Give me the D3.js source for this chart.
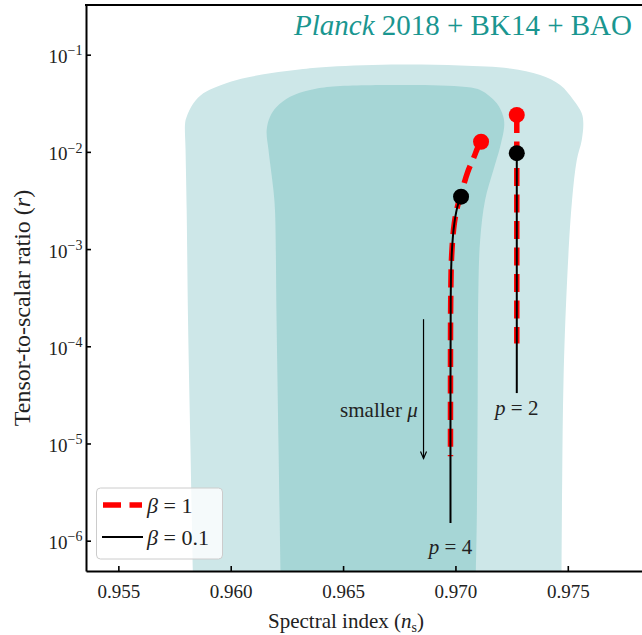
<!DOCTYPE html>
<html>
<head>
<meta charset="utf-8">
<script src="https://cdn.jsdelivr.net/npm/d3@7"></script>
<style>
body { margin: 0; background: #fff; }
svg text { font-family: "Liberation Serif", "Times New Roman", "DejaVu Serif", serif; fill: #222; }
</style>
</head>
<body>
<svg width="642" height="635"></svg>
<script>
// tick values
const xTicks = [0.955, 0.960, 0.965, 0.970, 0.975]
const yTicks = [1e-6, 1e-5, 1e-4, 1e-3, 1e-2, 1e-1]

// 95% contour (outer, light)
const outerNs = [0.95832, 0.95821, 0.95810, 0.95804, 0.95799, 0.95797, 0.95804, 0.95834, 0.95878, 0.95938,
  0.96027, 0.96175, 0.96322, 0.96442, 0.96754, 0.97021, 0.97243, 0.97377, 0.97466, 0.97525,
  0.97562, 0.97569, 0.97562, 0.97540, 0.97519, 0.97497, 0.97481, 0.97475, 0.97472]
const outerR = [4.0e-7, 8.6e-6, 1.87e-4, 2.52e-3, 1.05e-2, 1.97e-2, 2.30e-2, 3.16e-2, 4.01e-2, 4.69e-2,
  5.50e-2, 6.44e-2, 7.13e-2, 7.53e-2, 7.93e-2, 7.74e-2, 7.21e-2, 6.18e-2, 4.88e-2, 3.42e-2,
  2.49e-2, 1.97e-2, 1.32e-2, 8.26e-3, 3.20e-3, 4.81e-4, 4.50e-5, 4.21e-6, 4.0e-7]

// 68% contour (inner, darker)
const innerNs = [0.96222, 0.96213, 0.96204, 0.96197, 0.96190, 0.96168, 0.96160, 0.96175, 0.96205, 0.96264,
  0.96353, 0.96442, 0.96754, 0.97021, 0.97110, 0.97184, 0.97213, 0.97217, 0.97199, 0.97169,
  0.97132, 0.97110, 0.97102, 0.97099, 0.97095, 0.97090]
const innerR = [4.0e-7, 8.6e-6, 1.87e-4, 2.52e-3, 4.06e-3, 1.05e-2, 1.68e-2, 2.30e-2, 2.92e-2, 3.70e-2,
  4.34e-2, 4.69e-2, 4.88e-2, 4.71e-2, 4.34e-2, 3.16e-2, 2.30e-2, 1.82e-2, 1.13e-2, 6.52e-3,
  3.20e-3, 1.24e-3, 3.79e-4, 2.81e-5, 1.63e-6, 4.0e-7]

// model predictions, first point = large mu end
const beta1P4Ns = [0.97114, 0.97098, 0.97083, 0.97055, 0.97035, 0.97025, 0.97013, 0.96995, 0.96983, 0.96979, 0.96978, 0.96978]
const beta1P4R = [1.27e-2, 1.09e-2, 8.9e-3, 6.25e-3, 4.4e-3, 3.46e-3, 2.96e-3, 1.84e-3, 8.4e-4, 3.0e-4, 3.0e-5, 7.4e-6]
const beta01P4Ns = [0.97025, 0.97013, 0.96995, 0.96983, 0.96979, 0.96978, 0.96978]
const beta01P4R = [3.46e-3, 2.96e-3, 1.84e-3, 8.4e-4, 3.0e-4, 3.0e-5, 1.52e-6]
const beta1P2Ns = [0.97273, 0.97273]
const beta1P2R = [2.4e-2, 1.07e-4]
const beta01P2Ns = [0.97273, 0.97273]
const beta01P2R = [9.7e-3, 3.3e-5]

// 画布
const svg = d3.select('svg')
const mLeft = 86, mRight = 646, mTop = 5, mBottom = 571

const x = d3.scaleLinear().domain([0.95356, 0.97848]).range([mLeft, mRight])
const y = d3.scaleLog().domain([Math.pow(10, -6.312), Math.pow(10, -0.489)]).range([mBottom, mTop])

svg.append('defs').append('clipPath').attr('id', 'clip')
  .append('rect').attr('x', mLeft).attr('y', mTop).attr('width', mRight - mLeft).attr('height', mBottom - mTop)

const plot = svg.append('g').attr('clip-path', 'url(#clip)')

const zip = (a, b) => a.map((v, i) => [v, b[i]])
const smooth = d3.line().x(d => x(d[0])).y(d => y(d[1])).curve(d3.curveCatmullRom)

// 等高线区域
plot.append('path').attr('d', smooth(zip(outerNs, outerR)) + 'Z').attr('fill', '#cde7e8')
plot.append('path').attr('d', smooth(zip(innerNs, innerR)) + 'Z').attr('fill', '#a6d6d6')

// 曲线 (beta = 1 红色虚线, beta = 0.1 黑色实线)
const red = [zip(beta1P4Ns, beta1P4R), zip(beta1P2Ns, beta1P2R)]
const black = [zip(beta01P4Ns, beta01P4R), zip(beta01P2Ns, beta01P2R)]

red.forEach(c => {
  plot.append('path').attr('d', smooth(c)).attr('fill', 'none')
    .attr('stroke', '#ff0000').attr('stroke-width', 5.5).attr('stroke-dasharray', '18,8.5')
  plot.append('circle').attr('cx', x(c[0][0])).attr('cy', y(c[0][1])).attr('r', 8).attr('fill', '#ff0000')
})
black.forEach(c => {
  plot.append('path').attr('d', smooth(c)).attr('fill', 'none')
    .attr('stroke', '#000').attr('stroke-width', 2)
  plot.append('circle').attr('cx', x(c[0][0])).attr('cy', y(c[0][1])).attr('r', 8).attr('fill', '#000')
})

// 箭头和注释
const arrowNs = 0.96858, arrowR = [1.9e-4, 7.0e-6]
const ax = x(arrowNs), ay0 = y(arrowR[0]), ay1 = y(arrowR[1])
plot.append('line').attr('x1', ax).attr('x2', ax).attr('y1', ay0).attr('y2', ay1)
  .attr('stroke', '#000').attr('stroke-width', 1.2)
plot.append('path').attr('d', `M${ax - 3},${ay1 - 7}L${ax},${ay1}L${ax + 3},${ay1 - 7}`)
  .attr('fill', 'none').attr('stroke', '#000').attr('stroke-width', 1.2)

const muText = svg.append('text').attr('x', x(0.96832)).attr('y', y(1.87e-5))
  .attr('text-anchor', 'end').attr('font-size', 21)
muText.append('tspan').text('smaller ')
muText.append('tspan').attr('font-style', 'italic').text('μ')

const pLabels = [[0.97273, 1.96e-5, '2'], [0.96978, 7.36e-7, '4']]
pLabels.forEach(d => {
  const t = svg.append('text').attr('x', x(d[0])).attr('y', y(d[1]))
    .attr('text-anchor', 'middle').attr('font-size', 21)
  t.append('tspan').attr('font-style', 'italic').text('p')
  t.append('tspan').text(' = ' + d[2])
})

// 坐标轴
const gx = svg.append('g').attr('transform', `translate(0,${mBottom})`)
  .call(d3.axisBottom(x).tickValues(xTicks).tickFormat(d3.format('.3f'))
    .tickSizeInner(-5).tickSizeOuter(0).tickPadding(14))
gx.attr('font-size', 19).attr('font-family', null)
gx.select('.domain').attr('stroke-width', 2)
gx.selectAll('.tick line').attr('stroke-width', 1.6)

const gy = svg.append('g').attr('transform', `translate(${mLeft},0)`)
  .call(d3.axisLeft(y).tickValues(yTicks).tickSizeInner(-5).tickSizeOuter(0).tickPadding(3.5))
gy.attr('font-size', 19).attr('font-family', null)
gy.select('.domain').attr('stroke-width', 2)
gy.selectAll('.tick line').attr('stroke-width', 1.6)
gy.selectAll('.tick text').each(function (d) {
  const t = d3.select(this).text(null).attr('dy', '0.42em')
  t.append('tspan').text('10')
  t.append('tspan').attr('dy', '-0.55em').attr('font-size', 14)
    .text('\u2212' + Math.round(-Math.log10(d)))
})

svg.append('line').attr('x1', mLeft - 1).attr('x2', mRight).attr('y1', mTop).attr('y2', mTop)
  .attr('stroke', '#000').attr('stroke-width', 2)

// 轴标题
const xt = svg.append('text').attr('x', 346).attr('y', 628).attr('text-anchor', 'middle').attr('font-size', 21)
xt.append('tspan').text('Spectral index (')
xt.append('tspan').attr('font-style', 'italic').text('n')
xt.append('tspan').attr('font-size', 14).attr('dy', 4).text('s')
xt.append('tspan').attr('dy', -4).text(')')

const yt = svg.append('text').attr('transform', 'translate(30,308) rotate(-90)')
  .attr('text-anchor', 'middle').attr('font-size', 24)
yt.append('tspan').text('Tensor-to-scalar ratio (')
yt.append('tspan').attr('font-style', 'italic').text('r')
yt.append('tspan').text(')')

// 标题
const title = svg.append('text').attr('x', 632).attr('y', 35).attr('text-anchor', 'end')
  .attr('font-size', 29).style('fill', '#1a9690')
title.append('tspan').attr('font-style', 'italic').text('Planck')
title.append('tspan').text(' 2018 + BK14 + BAO')

// 图例
const lg = svg.append('g')
lg.append('rect').attr('x', 96.5).attr('y', 488).attr('width', 126).attr('height', 71).attr('rx', 4)
  .attr('fill', '#fff').attr('fill-opacity', 0.8).attr('stroke', '#cccccc')
lg.append('line').attr('x1', 103).attr('x2', 142).attr('y1', 505).attr('y2', 505)
  .attr('stroke', '#ff0000').attr('stroke-width', 5.5).attr('stroke-dasharray', '18,8.5')
lg.append('line').attr('x1', 102).attr('x2', 143).attr('y1', 537).attr('y2', 537)
  .attr('stroke', '#000').attr('stroke-width', 2)
const legendLabels = ['1', '0.1']
legendLabels.forEach((v, i) => {
  const t = lg.append('text').attr('x', 147).attr('y', 513 + i * 32).attr('font-size', 22)
  t.append('tspan').attr('font-style', 'italic').text('β')
  t.append('tspan').text(' = ' + v)
})
</script>
</body>
</html>
